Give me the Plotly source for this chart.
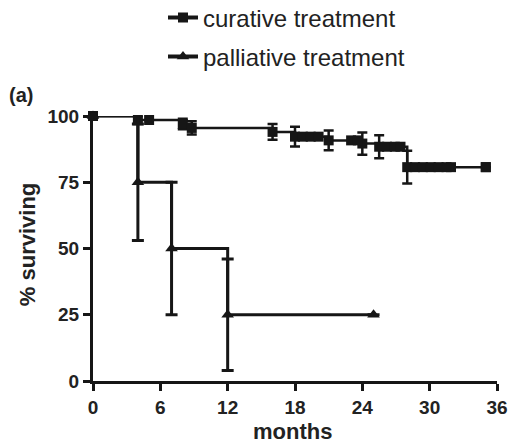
import numpy as np
import plotly.graph_objects as go

# ---- data ----
cur_time = [0, 4, 8, 8.8, 16, 18, 21, 24, 25.5, 28, 35]
cur_surv = [100, 98.5, 97, 95.5, 94, 92.2, 90.8, 89.6, 88.4, 80.7, 80.7]
cur_err = [0, 1.5, 2, 2.5, 3, 3.7, 3.7, 4.2, 4.3, 6.2, 0]
cur_censored = [5, 18.7, 19.4, 20.1, 23.0, 23.6, 26.2, 26.9, 27.4,
                28.7, 29.4, 30.1, 30.8, 31.5, 31.9, 35]

pal_time = [0, 4, 7, 12, 25]
pal_surv = [100, 75, 50, 25, 25]
pal_err = [0, 22, 25, 21, 0]

x_ticks = [0, 6, 12, 18, 24, 30, 36]
y_ticks = [0, 25, 50, 75, 100]

INK = "#161616"


def step_value(times, surv, t):
    idx = np.searchsorted(np.array(times), t, side="right") - 1
    return np.array(surv)[idx]


cur_cens_y = [float(step_value(cur_time, cur_surv, t)) for t in cur_censored]

fig = go.Figure()

# curative
fig.add_trace(go.Scatter(x=cur_time, y=cur_surv, mode="lines", line_shape="hv",
                         line=dict(color=INK, width=2.5), showlegend=False,
                         cliponaxis=False))
fig.add_trace(go.Scatter(x=cur_time, y=cur_surv, mode="markers",
                         marker=dict(symbol="square", size=10, color=INK),
                         error_y=dict(type="data", array=cur_err, color=INK,
                                      thickness=2.5, width=5),
                         showlegend=False, cliponaxis=False))
fig.add_trace(go.Scatter(x=cur_censored, y=cur_cens_y, mode="markers",
                         marker=dict(symbol="square", size=10, color=INK),
                         showlegend=False, cliponaxis=False))

# palliative
fig.add_trace(go.Scatter(x=pal_time, y=pal_surv, mode="lines", line_shape="hv",
                         line=dict(color=INK, width=3), showlegend=False,
                         cliponaxis=False))
fig.add_trace(go.Scatter(x=pal_time, y=pal_surv, mode="markers",
                         marker=dict(symbol="triangle-up", size=11, color=INK),
                         error_y=dict(type="data", array=pal_err, color=INK,
                                      thickness=3, width=6),
                         showlegend=False, cliponaxis=False))

# legend entries
fig.add_trace(go.Scatter(x=[None], y=[None], mode="lines+markers",
                         name="curative treatment",
                         line=dict(color=INK, width=4),
                         marker=dict(symbol="square", size=10, color=INK),
                         legend="legend"))
fig.add_trace(go.Scatter(x=[None], y=[None], mode="lines+markers",
                         name="palliative treatment",
                         line=dict(color=INK, width=4),
                         marker=dict(symbol="triangle-up", size=11, color=INK),
                         legend="legend2"))

leg_font = dict(family="Arial, sans-serif", size=24, color="#222")
title_font = dict(family="Arial, sans-serif", size=22, color="#222")
fig.update_layout(
    width=511, height=448,
    margin=dict(l=93, r=14, t=116, b=67, autoexpand=False),
    paper_bgcolor="white", plot_bgcolor="white",
    legend=dict(xref="container", yref="container", x=163 / 511, y=1 - 18 / 448,
                xanchor="left", yanchor="middle", font=leg_font,
                bgcolor="rgba(0,0,0,0)", borderwidth=0),
    legend2=dict(xref="container", yref="container", x=163 / 511, y=1 - 57 / 448,
                 xanchor="left", yanchor="middle", font=leg_font,
                 bgcolor="rgba(0,0,0,0)", borderwidth=0),
    annotations=[
        dict(text="<b>(a)</b>", xref="paper", yref="paper",
             x=-0.212, y=1.079, xanchor="left", yanchor="middle",
             showarrow=False,
             font=dict(family="Arial, sans-serif", size=20, color="#222")),
        dict(text="<b>% surviving</b>", xref="paper", yref="paper",
             x=-0.163, y=0.513, xanchor="center", yanchor="middle",
             textangle=-90, showarrow=False, font=title_font),
        dict(text="<b>months</b>", xref="paper", yref="paper",
             x=0.493, y=-0.192, xanchor="center", yanchor="middle",
             showarrow=False, font=title_font),
    ],
)

tick_font = dict(family="Arial, sans-serif", size=19, color="#222", weight="bold")

fig.update_xaxes(range=[0, 36], tickvals=x_ticks, ticks="outside", ticklen=7,
                 tickwidth=3, tickcolor=INK, showline=True, linewidth=3,
                 linecolor=INK, showgrid=False, zeroline=False,
                 tickfont=tick_font, automargin=False)
fig.update_yaxes(range=[0, 100], tickvals=y_ticks, ticks="outside", ticklen=7,
                 tickwidth=3, tickcolor=INK, showline=True, linewidth=3,
                 linecolor=INK, showgrid=False, zeroline=False,
                 tickfont=tick_font, automargin=False)

fig.write_html("out.html")
